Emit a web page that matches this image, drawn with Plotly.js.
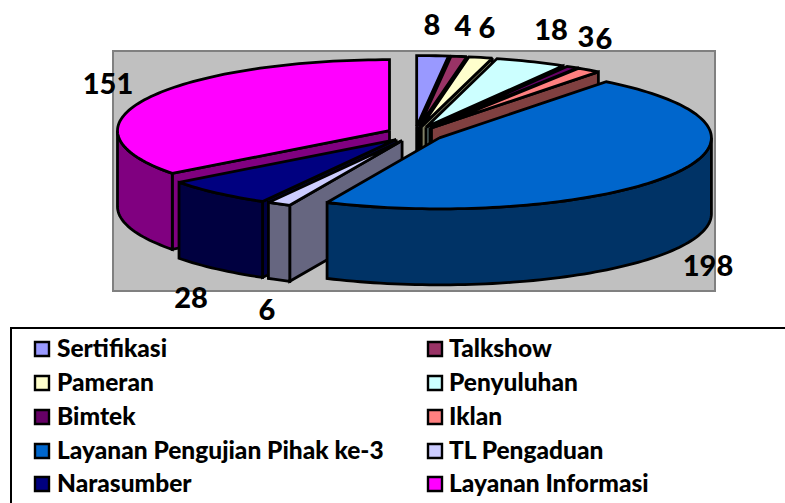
<!DOCTYPE html>
<html>
<head>
<meta charset="utf-8">
<script src="https://cdn.plot.ly/plotly-3.0.1.min.js"></script>
<style>html,body{margin:0;padding:0;background:#fff;overflow:hidden}</style>
</head>
<body>
<div id="chart" style="width:785px;height:503px"></div>
<script>
const categories = ["Sertifikasi","Talkshow","Pameran","Penyuluhan","Bimtek","Iklan","Layanan Pengujian Pihak ke-3","TL Pengaduan","Narasumber","Layanan Informasi"];
const values = [8,4,6,18,3,6,198,6,28,151];
const topColors = ["#9999FF","#993366","#FFFFCC","#CCFFFF","#660066","#FF8080","#0066CC","#CCCCFF","#000080","#FF00FF"];
const sideColors = ["#4C4C80","#4C1A33","#808066","#668080","#330033","#804040","#003366","#666680","#000040","#800080"];

// drawing layout of the tilted pie
const centre = {x:415, y:134}, radiusX = 272, radiusY = 71, depth = 76, pull = 28.5;
const drawOrder = [0,1,2,3,4,5,9,8,7,6];
const labelX = [432,463,487,551,586,604,708,267,191,108];
const labelY = [28,29,31,33,40,42,269,313,301,87];
const legendSwatchX = [42,435], legendTextX = [57,449];
const legendSwatchY = [349,383,417,451,484];
const legendTextY = [351,385,419,453,486];

const rad = d => d*Math.PI/180;
const total = values.reduce((a,b)=>a+b,0);
let run = 0;
const slices = values.map(v => {
  const a0 = run/total*360; run += v; const a1 = run/total*360; const m = (a0+a1)/2;
  return {a0,a1,cx:centre.x+pull*Math.sin(rad(m)),cy:centre.y-pull*(radiusY/radiusX)*Math.cos(rad(m))};
});
const pt = (s,a,dy=0)=>[s.cx+radiusX*Math.sin(rad(a)), s.cy-radiusY*Math.cos(rad(a))+dy];
const arc = (s,a,b,dy=0)=>{const n=Math.max(2,Math.ceil(Math.abs(b-a)/1.5));const o=[];for(let i=0;i<=n;i++)o.push(pt(s,a+(b-a)*i/n,dy));return o;};
const traces = [];
const poly = (pts,fill)=>{
  const c = pts.concat([pts[0]]);
  traces.push({type:'scatter',mode:'lines',x:c.map(p=>p[0]),y:c.map(p=>p[1]),fill:'toself',fillcolor:fill,
    line:{color:'#000',width:2.8,simplify:false},hoverinfo:'skip',showlegend:false});
};
drawOrder.forEach(i=>{
  const s = slices[i], apex=[s.cx,s.cy], apexD=[s.cx,s.cy+depth];
  if (Math.cos(rad(s.a0-90))<=0) poly([apex,pt(s,s.a0),pt(s,s.a0,depth),apexD],sideColors[i]);
  if (Math.cos(rad(s.a1+90))<0) poly([apex,pt(s,s.a1),pt(s,s.a1,depth),apexD],sideColors[i]);
  const r0=Math.max(s.a0,90), r1=Math.min(s.a1,270);
  if (r1>r0) poly(arc(s,r0,r1).concat(arc(s,r1,r0,depth)),sideColors[i]);
  poly([apex].concat(arc(s,s.a0,s.a1)),topColors[i]);
});
// data labels
traces.push({type:'scatter',mode:'text',x:labelX,y:labelY,text:values.map(String),textposition:'middle center',
  textfont:{family:'Lato, "Open Sans", sans-serif',size:29,color:'#000',weight:900},hoverinfo:'skip',showlegend:false});
// legend
const lgx=categories.map((_,i)=>legendSwatchX[i%2]), lgy=categories.map((_,i)=>legendSwatchY[Math.floor(i/2)]);
traces.push({type:'scatter',mode:'markers',x:lgx,y:lgy,marker:{symbol:'square',size:14,color:topColors,line:{color:'#000',width:2.4}},hoverinfo:'skip',showlegend:false});
traces.push({type:'scatter',mode:'text',x:categories.map((_,i)=>legendTextX[i%2]),y:categories.map((_,i)=>legendTextY[Math.floor(i/2)]),text:categories,textposition:'middle right',
  textfont:{family:'Lato, "Open Sans", sans-serif',size:24.5,color:'#000',weight:900},hoverinfo:'skip',showlegend:false});

const layout = {
  width:785,height:503,margin:{l:0,r:0,t:0,b:0},paper_bgcolor:'#fff',plot_bgcolor:'#fff',showlegend:false,
  xaxis:{range:[0,785],visible:false,fixedrange:true},
  yaxis:{range:[503,0],visible:false,fixedrange:true},
  shapes:[
    {type:'rect',xref:'x',yref:'y',x0:113,x1:715,y0:51,y1:291,fillcolor:'#C0C0C0',line:{color:'#808080',width:2},layer:'below'},
    {type:'rect',xref:'x',yref:'y',x0:11,x1:800,y0:328,y1:520,fillcolor:'#fff',line:{color:'#000',width:2},layer:'below'}
  ]
};
Plotly.newPlot('chart',traces,layout,{displayModeBar:false,staticPlot:true});
</script>
</body>
</html>
